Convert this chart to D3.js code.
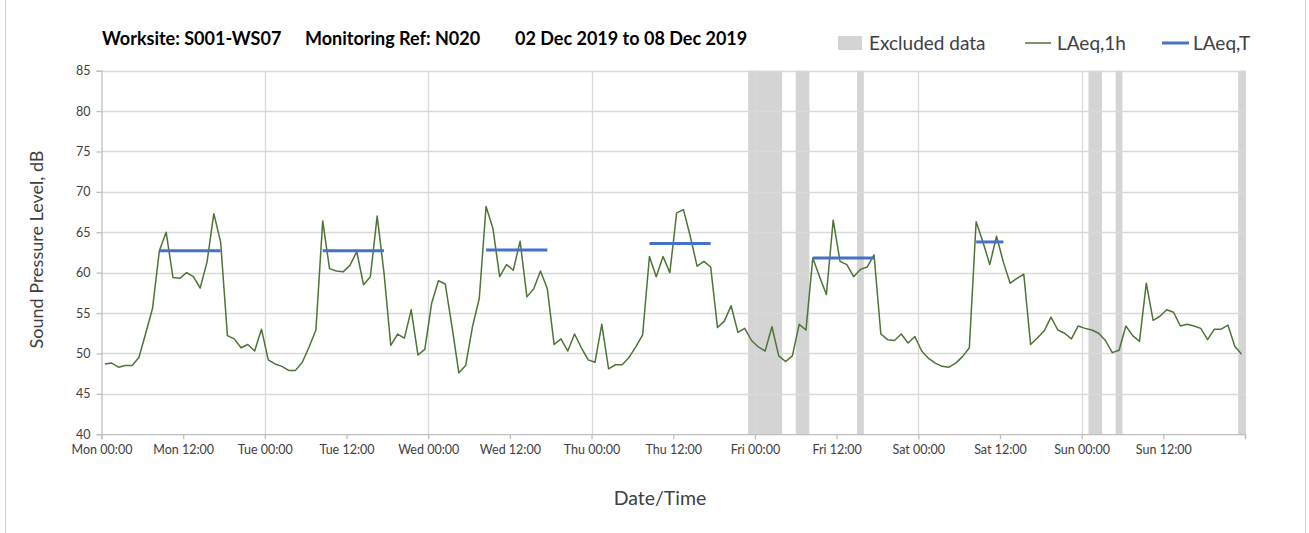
<!DOCTYPE html>
<html>
<head>
<meta charset="utf-8">
<script src="https://cdn.jsdelivr.net/npm/d3@7/dist/d3.min.js"></script>
<style>
  html, body { margin: 0; padding: 0; background: #fff; }
  svg { display: block; font-family: Lato, "Open Sans", sans-serif; }
</style>
</head>
<body>
<svg id="chart" width="1309" height="533"></svg>
<script>
// ---- Data ----
const startDate = new Date(2019, 11, 2, 0, 0, 0); // Mon 02 Dec 2019 00:00
// Hourly LAeq,1h values (dB), Mon 00:00 .. Sun 23:00
const laeq1h = [
  // Mon
  48.7, 48.8, 48.3, 48.5, 48.5, 49.5, 52.5, 55.6, 62.7, 65.0, 59.4, 59.3,
  60.0, 59.5, 58.1, 61.3, 67.3, 63.8, 52.2, 51.8, 50.7, 51.1, 50.3, 53.0,
  // Tue
  49.2, 48.7, 48.4, 47.9, 47.9, 48.9, 50.8, 52.9, 66.4, 60.5, 60.2, 60.1,
  60.9, 62.6, 58.5, 59.5, 67.0, 60.0, 51.0, 52.4, 51.9, 55.4, 49.8, 50.5,
  // Wed
  56.2, 59.0, 58.6, 53.3, 47.6, 48.5, 53.3, 56.8, 68.2, 65.5, 59.5, 61.0,
  60.3, 63.9, 57.0, 58.0, 60.2, 58.0, 51.1, 51.8, 50.3, 52.4, 50.7, 49.2,
  // Thu
  48.9, 53.6, 48.1, 48.6, 48.6, 49.5, 50.8, 52.3, 62.0, 59.5, 62.0, 60.0,
  67.4, 67.8, 64.5, 60.8, 61.4, 60.7, 53.2, 54.0, 55.9, 52.6, 53.1, 51.6,
  // Fri
  50.8, 50.3, 53.3, 49.7, 49.0, 49.7, 53.6, 52.9, 61.8, 59.5, 57.3, 66.5,
  61.4, 61.0, 59.5, 60.4, 60.7, 62.2, 52.4, 51.7, 51.6, 52.4, 51.3, 52.1,
  // Sat
  50.3, 49.4, 48.8, 48.4, 48.3, 48.8, 49.6, 50.7, 66.3, 63.8, 61.0, 64.5,
  61.3, 58.7, 59.3, 59.8, 51.1, 51.9, 52.8, 54.5, 52.9, 52.5, 51.8, 53.4,
  // Sun
  53.1, 52.9, 52.5, 51.6, 50.1, 50.4, 53.4, 52.2, 51.5, 58.7, 54.1, 54.6,
  55.4, 55.1, 53.4, 53.6, 53.4, 53.1, 51.7, 53.0, 53.0, 53.5, 50.9, 49.9
];
// LAeq,T periods (hours from Mon 00:00) and values
const periodStartHour = [8, 32, 56, 80, 104, 128];
const periodEndHour   = [18, 42, 66, 90, 114, 133];
const laeqT           = [62.7, 62.7, 62.8, 63.6, 61.8, 63.8];
// Excluded data periods (hours from Mon 00:00)
const excludedStart = [95, 102, 111, 145, 149, 167];
const excludedEnd   = [100, 104, 112, 147, 150, 168];
// Axis ticks
const yTicks = [40, 45, 50, 55, 60, 65, 70, 75, 80, 85];
const xTickLabels = ["Mon 00:00", "Mon 12:00", "Tue 00:00", "Tue 12:00", "Wed 00:00", "Wed 12:00",
  "Thu 00:00", "Thu 12:00", "Fri 00:00", "Fri 12:00", "Sat 00:00", "Sat 12:00", "Sun 00:00", "Sun 12:00"];
const titleParts = ["Worksite: S001-WS07", "Monitoring Ref: N020", "02 Dec 2019 to 08 Dec 2019"];

// ---- Layout ----
const plot = { left: 101.5, right: 1245, top: 70.7, bottom: 434.2 };
const hourMs = 3600 * 1000;
const hoursToDate = h => new Date(startDate.getTime() + h * hourMs);

const x = d3.scaleTime()
  .domain([startDate, hoursToDate(168)])
  .range([plot.left, plot.right]);
const y = d3.scaleLinear().domain([40, 85]).range([plot.bottom, plot.top]);

const svg = d3.select("#chart");
svg.append("rect").attr("width", 1309).attr("height", 533).attr("fill", "#fff");

// chart frame edges
svg.append("line").attr("x1", 5.5).attr("x2", 5.5).attr("y1", 0).attr("y2", 533)
  .attr("stroke", "#d0d0d0").attr("stroke-width", 1);
svg.append("line").attr("x1", 1305.5).attr("x2", 1305.5).attr("y1", 0).attr("y2", 533)
  .attr("stroke", "#d0d0d0").attr("stroke-width", 1);

// excluded bands
svg.append("g").selectAll("rect")
  .data(excludedStart.map((s, i) => [s, excludedEnd[i]]))
  .join("rect")
  .attr("x", d => x(hoursToDate(d[0])))
  .attr("width", d => x(hoursToDate(d[1])) - x(hoursToDate(d[0])))
  .attr("y", plot.top)
  .attr("height", plot.bottom - plot.top)
  .attr("fill", "#d4d4d4");

// horizontal gridlines
svg.append("g").selectAll("line")
  .data(yTicks.filter(t => t > 40))
  .join("line")
  .attr("x1", plot.left).attr("x2", plot.right)
  .attr("y1", d => Math.round(y(d)) + 0.5).attr("y2", d => Math.round(y(d)) + 0.5)
  .attr("stroke", "#d9d9d9").attr("stroke-width", 1.3);

// vertical gridlines (daily)
const dayTicks = d3.range(1, 8).map(d => hoursToDate(d * 24));
svg.append("g").selectAll("line")
  .data(dayTicks)
  .join("line")
  .attr("x1", d => Math.round(x(d)) + 0.5).attr("x2", d => Math.round(x(d)) + 0.5)
  .attr("y1", plot.top).attr("y2", plot.bottom)
  .attr("stroke", "#d9d9d9").attr("stroke-width", 1.3);

// Y axis
const yAxis = d3.axisLeft(y).tickValues(yTicks).tickSize(5).tickPadding(6).tickFormat(d3.format("d"));
const gy = svg.append("g").attr("transform", `translate(${plot.left},0)`).call(yAxis);
gy.select(".domain").attr("stroke", "#bfbfbf").attr("stroke-width", 1.3);
gy.selectAll(".tick line").attr("stroke", "#bfbfbf").attr("stroke-width", 1.3);
gy.selectAll(".tick text").attr("fill", "#404040").style("font-size", "12.5px")
  .style("font-family", "Lato, sans-serif");

// X axis
const xTickDates = d3.range(0, 15).map(i => hoursToDate(i * 12));
const xAxis = d3.axisBottom(x).tickValues(xTickDates).tickSize(5).tickPadding(6)
  .tickFormat((d, i) => xTickLabels[i] || "");
const gx = svg.append("g").attr("transform", `translate(0,${plot.bottom})`).call(xAxis);
gx.select(".domain").attr("stroke", "#bfbfbf").attr("stroke-width", 1.3);
gx.selectAll(".tick line").attr("stroke", "#bfbfbf").attr("stroke-width", 1.3);
gx.selectAll(".tick text").attr("fill", "#404040").style("font-size", "12.5px")
  .style("font-family", "Lato, sans-serif");

// LAeq,1h line
const line = d3.line()
  .x((d, i) => x(hoursToDate(i + 0.5)))
  .y(d => y(d));
svg.append("path").datum(laeq1h)
  .attr("d", line)
  .attr("fill", "none")
  .attr("stroke", "#4e7436")
  .attr("stroke-width", 1.5)
  .attr("stroke-linejoin", "round");

// LAeq,T segments
svg.append("g").selectAll("line")
  .data(laeqT.map((v, i) => ({ v, s: periodStartHour[i], e: periodEndHour[i] })))
  .join("line")
  .attr("x1", d => x(hoursToDate(d.s + 0.5)))
  .attr("x2", d => x(hoursToDate(d.e - 0.5)))
  .attr("y1", d => y(d.v)).attr("y2", d => y(d.v))
  .attr("stroke", "#4472c4").attr("stroke-width", 3);

// Title
const titleX = [102, 305, 515];
svg.append("g").selectAll("text")
  .data(titleParts)
  .join("text")
  .attr("x", (d, i) => titleX[i]).attr("y", 45)
  .attr("font-weight", "bold").attr("font-size", "18px").attr("fill", "#000")
  .text(d => d);

// Legend
const lg = svg.append("g");
lg.append("rect").attr("x", 838).attr("y", 36).attr("width", 24).attr("height", 14).attr("fill", "#d4d4d4");
lg.append("text").attr("x", 869).attr("y", 49.5).attr("font-size", "19px").attr("fill", "#404040").text("Excluded data");
lg.append("line").attr("x1", 1025).attr("x2", 1051).attr("y1", 43).attr("y2", 43)
  .attr("stroke", "#4e7436").attr("stroke-width", 1.5);
lg.append("text").attr("x", 1057).attr("y", 49.5).attr("font-size", "19px").attr("fill", "#404040").text("LAeq,1h");
lg.append("line").attr("x1", 1162).attr("x2", 1189).attr("y1", 43).attr("y2", 43)
  .attr("stroke", "#4472c4").attr("stroke-width", 3);
lg.append("text").attr("x", 1193).attr("y", 49.5).attr("font-size", "19px").attr("fill", "#404040").text("LAeq,T");

// Axis titles
svg.append("text")
  .attr("transform", `translate(43,${(plot.top + plot.bottom) / 2 - 3}) rotate(-90)`)
  .attr("text-anchor", "middle").attr("font-size", "18px").attr("fill", "#404040")
  .text("Sound Pressure Level, dB");
svg.append("text")
  .attr("x", 660).attr("y", 505)
  .attr("text-anchor", "middle").attr("font-size", "19.5px").attr("fill", "#404040")
  .text("Date/Time");
</script>
</body>
</html>
